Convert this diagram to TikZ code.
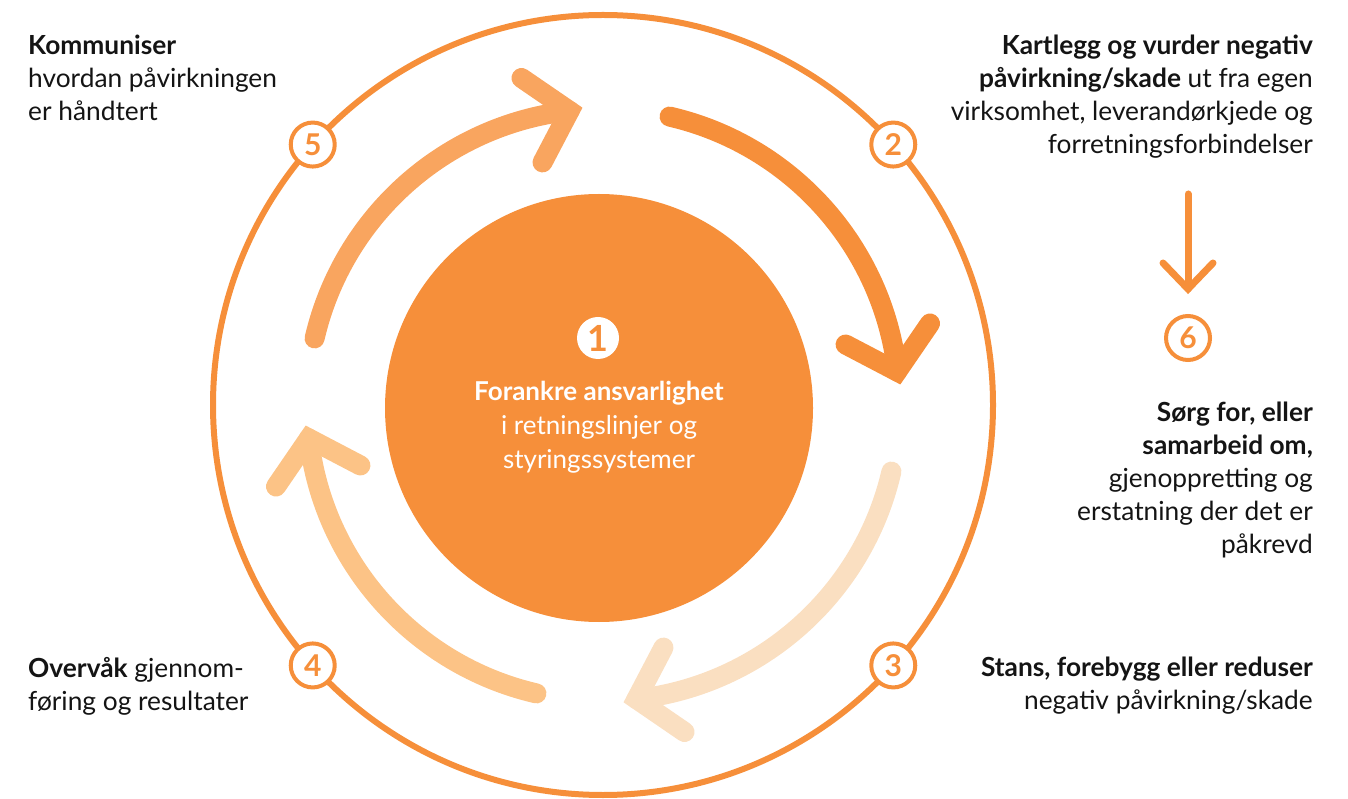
\documentclass[tikz,border=0pt]{standalone}
\usepackage{fontspec}
\setmainfont{Lato}
\usetikzlibrary{positioning,calc}

\definecolor{ringorange}{RGB}{246,143,58}
\definecolor{cyctwo}{RGB}{246,143,58}
\definecolor{cycfive}{RGB}{249,165,95}
\definecolor{cycfour}{RGB}{252,195,134}
\definecolor{cycthree}{RGB}{250,223,193}
\definecolor{inktext}{RGB}{20,20,20}

\begin{document}
\begin{tikzpicture}[x=1pt, y=1pt,
  num/.style={circle, draw=ringorange, line width=4pt, fill=white, minimum size=44pt, inner sep=0pt, text=ringorange, font=\fontsize{30}{30}\selectfont\bfseries},
  cyc/.style={line width=20pt, line cap=round, line join=miter},
  lbl/.style={inner sep=0pt, text=inktext, font=\fontsize{26.3}{33}\selectfont},
  core/.style={white, inner sep=0pt, align=center, font=\fontsize{26}{34}\selectfont}]

\useasboundingbox (0,0) rectangle (1348,798);

% ring with the five steps
\begin{scope}[shift={(603,393)}]
\draw[ringorange, line width=6pt] (0,0) circle[radius=390];
\foreach \s/\col in {167/cycfive, 77/cyctwo, -13/cycthree, -103/cycfour}{
  \draw[cyc, \col] (\s:296) arc[start angle=\s, end angle=\s-70.5, radius=296];
  \draw[cyc, \col] ({\s-63}:250) -- ({\s-70.5}:296) -- ({\s-63}:337);
}
\node[num] (n5) at (138.1:390) {5};
\node[num] (n2) at (41.9:390) {2};
\node[num] (n3) at (-41.9:390) {3};
\node[num] (n4) at (-138.1:390) {4};
\end{scope}

% centre
\node[circle, fill=ringorange, minimum size=428pt, inner sep=0pt] (core) at (599,390) {};
\node[circle, fill=white, minimum size=42pt, inner sep=0pt, text=ringorange, font=\fontsize{36}{36}\selectfont\bfseries] (n1) at (598,460) {1};
\node[core, anchor=north] (t1) at (599,417) {\textbf{Forankre ansvarlighet}\\i retningslinjer og\\styringssystemer};

% step 6
\node[num] (n6) at (1188,460) {6};
\coordinate (a6) at (1188,604);
\draw[ringorange, line width=7pt, line cap=round] (a6) -- ([yshift=25pt]n6.north);
\draw[ringorange, line width=7pt, line cap=round, line join=miter] ([shift={(-25,51)}]n6.north) -- ([yshift=25pt]n6.north) -- ([shift={(25,51)}]n6.north);

% labels
\node[lbl, anchor=north west, align=left] (t5) at (28,763) {\textbf{Kommuniser}\\hvordan påvirkningen\\er håndtert};
\node[lbl, anchor=north east, align=right] (t2) at (1313,763) {\textbf{Kartlegg og vurder negativ}\\\textbf{påvirkning/skade} ut fra egen\\virksomhet, leverandørkjede og\\forretningsforbindelser};
\node[lbl, anchor=north east, align=right] (t6) at (1313,396) {\textbf{Sørg for, eller}\\\textbf{samarbeid om,}\\gjenoppretting og\\erstatning der det er\\påkrevd};
\node[lbl, anchor=north east, align=right] (t3) at (1313,141) {\textbf{Stans, forebygg eller reduser}\\negativ påvirkning/skade};
\node[lbl, anchor=north west, align=left] (t4) at (28,141) {\textbf{Overvåk} gjennom-\\føring og resultater};
\end{tikzpicture}
\end{document}
